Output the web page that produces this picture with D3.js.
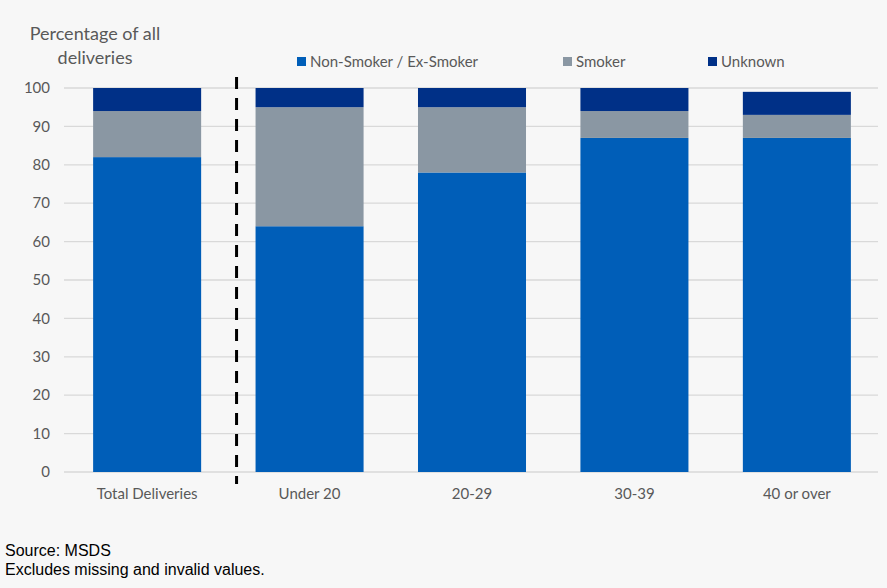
<!DOCTYPE html>
<html>
<head>
<meta charset="utf-8">
<script src="https://cdn.jsdelivr.net/npm/d3@7"></script>
<style>
  body { margin: 0; background: #f7f7f7; }
  svg { display: block; }
</style>
</head>
<body>
<div id="chart"></div>
<script>
// data
const categories = ["Total Deliveries", "Under 20", "20-29", "30-39", "40 or over"];
const nonSmoker = [82, 64, 78, 87, 87];
const smoker = [12, 31, 17, 7, 6];
const unknown = [6, 5, 5, 6, 6];
const yTicks = [0, 10, 20, 30, 40, 50, 60, 70, 80, 90, 100];
const seriesNames = ["Non-Smoker / Ex-Smoker", "Smoker", "Unknown"];

const width = 887;
const height = 588;
const colors = ["#005eb8", "#8a97a3", "#003087"];
const textCol = "#595959";
const font = "Lato, 'Open Sans', sans-serif";

const svg = d3.select("#chart")
    .append("svg")
    .attr("width", width)
    .attr("height", height)
    .style("background", "#f7f7f7");

const x = d3.scaleBand().domain(categories).range([66, 878]).paddingInner(0.335).paddingOuter(0.167);
const y = d3.scaleLinear().domain([0, 100]).range([472, 88]);

// gridlines
svg.append("g")
    .selectAll("line")
    .data(yTicks)
    .enter()
    .append("line")
    .attr("x1", 64)
    .attr("x2", 878)
    .attr("y1", d => y(d))
    .attr("y2", d => y(d))
    .attr("stroke", "#d9d9d9")
    .attr("stroke-width", 1.3);

// y tick labels
svg.append("g")
    .selectAll("text")
    .data(yTicks)
    .enter()
    .append("text")
    .attr("x", 50)
    .attr("y", d => y(d))
    .attr("dy", "0.35em")
    .attr("text-anchor", "end")
    .attr("font-family", font)
    .attr("font-size", 15)
    .attr("fill", textCol)
    .text(d => d);

// stacked bars
const rows = categories.map((c, i) => ({ cat: c, a: nonSmoker[i], b: smoker[i], c: unknown[i] }));
const stack = d3.stack().keys(["a", "b", "c"]);
const layers = stack(rows);

svg.append("g")
    .selectAll("g")
    .data(layers)
    .enter()
    .append("g")
    .attr("fill", (d, i) => colors[i])
    .selectAll("rect")
    .data(d => d)
    .enter()
    .append("rect")
    .attr("x", d => x(d.data.cat))
    .attr("width", x.bandwidth())
    .attr("y", d => y(d[1]))
    .attr("height", d => y(d[0]) - y(d[1]));

// category labels
svg.append("g")
    .selectAll("text")
    .data(categories)
    .enter()
    .append("text")
    .attr("x", d => x(d) + x.bandwidth() / 2)
    .attr("y", 499)
    .attr("text-anchor", "middle")
    .attr("font-family", font)
    .attr("font-size", 15)
    .attr("fill", textCol)
    .text(d => d);

// dashed divider between total and age groups
const divX = x(categories[1]) - 19;
svg.append("line")
    .attr("x1", divX)
    .attr("x2", divX)
    .attr("y1", 77)
    .attr("y2", 484)
    .attr("stroke", "#000")
    .attr("stroke-width", 3)
    .attr("stroke-dasharray", "12,9");

// y axis title
svg.append("text")
    .attr("x", 95)
    .attr("text-anchor", "middle")
    .attr("font-family", font)
    .attr("font-size", 18)
    .attr("fill", textCol)
    .selectAll("tspan")
    .data(["Percentage of all", "deliveries"])
    .enter()
    .append("tspan")
    .attr("x", 95)
    .attr("y", (d, i) => 40 + i * 24)
    .text(d => d);

// legend
const legendX = [297, 563, 708];
const legend = svg.append("g")
    .selectAll("g")
    .data(seriesNames)
    .enter()
    .append("g")
    .attr("transform", (d, i) => `translate(${legendX[i]}, 62)`);

legend.append("rect")
    .attr("x", 0)
    .attr("y", -5)
    .attr("width", 9)
    .attr("height", 9)
    .attr("fill", (d, i) => colors[i]);

legend.append("text")
    .attr("x", 13)
    .attr("y", 0)
    .attr("dy", "0.35em")
    .attr("font-family", font)
    .attr("font-size", 15)
    .attr("fill", textCol)
    .text(d => d);

// footnotes
svg.append("text")
    .attr("x", 5)
    .attr("y", 556)
    .attr("font-family", "'Liberation Sans', Arial, sans-serif")
    .attr("font-size", 16)
    .attr("fill", "#000")
    .text("Source: MSDS");

svg.append("text")
    .attr("x", 5)
    .attr("y", 575)
    .attr("font-family", "'Liberation Sans', Arial, sans-serif")
    .attr("font-size", 16)
    .attr("fill", "#000")
    .text("Excludes missing and invalid values.");
</script>
</body>
</html>
